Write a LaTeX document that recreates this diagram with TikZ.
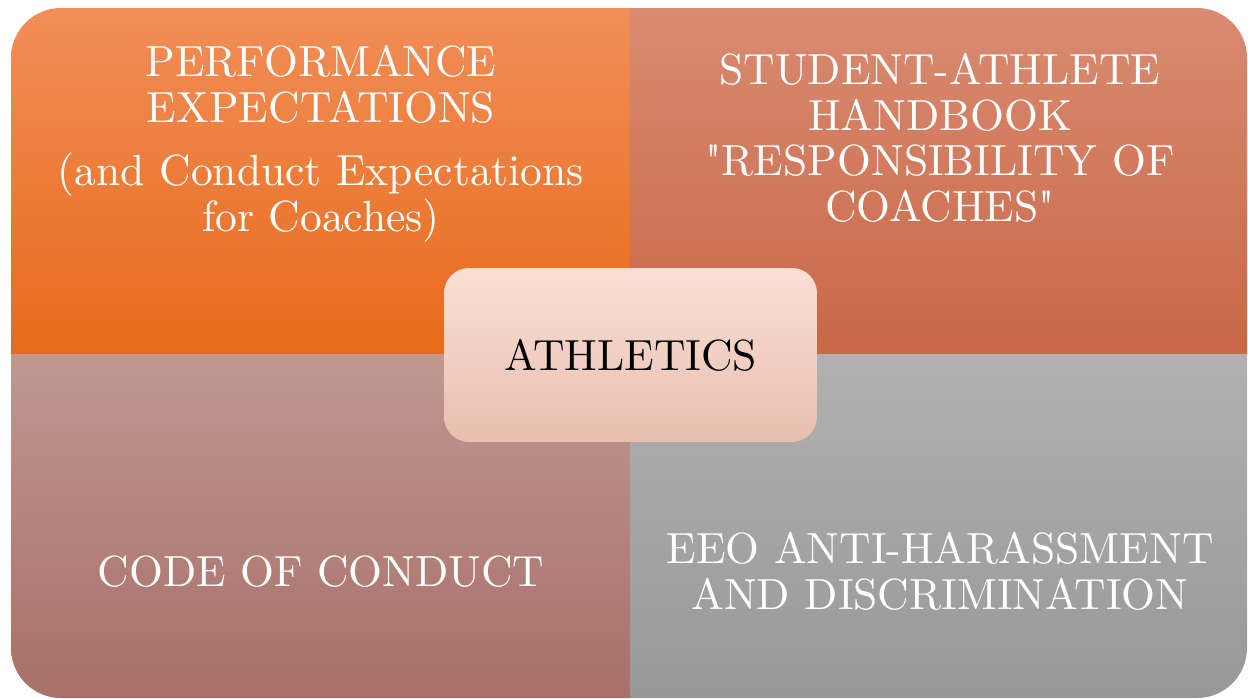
\documentclass[tikz,border=0pt]{standalone}
\usepackage{fontspec}
\setmainfont{lmroman10-regular.otf}[Ligatures=TeXOff]
\usepackage{tikz}

\definecolor{perfTop}{RGB}{241,142,88}
\definecolor{perfBot}{RGB}{232,106,26}
\definecolor{bookTop}{RGB}{217,139,114}
\definecolor{bookBot}{RGB}{201,103,70}
\definecolor{codeTop}{RGB}{192,151,146}
\definecolor{codeBot}{RGB}{168,112,104}
\definecolor{eeoTop}{RGB}{177,177,177}
\definecolor{eeoBot}{RGB}{152,152,152}
\definecolor{hubTop}{RGB}{251,223,213}
\definecolor{hubBot}{RGB}{231,191,176}

\begin{document}
\begin{tikzpicture}[x=0.02cm,y=-0.02cm,
    label/.style={inner sep=0pt,anchor=north,align=center,text=white,
                  font=\fontsize{24.8}{26}\selectfont}]
            \useasboundingbox (0,0) rectangle (1248,698);

            %%%%%%%%%%%%%%%%%%%%%%%%%%%%%%%%%%%
            % four quarters, outer corners rounded
            \begin{scope}
                \clip[rounded corners=1cm] (11,8) rectangle (1247,698);
                \shade[top color=perfTop,bottom color=perfBot] (11,8) rectangle (630,354);
                \shade[top color=bookTop,bottom color=bookBot] (630,8) rectangle (1247,354);
                \shade[top color=codeTop,bottom color=codeBot] (11,354) rectangle (630,698);
                \shade[top color=eeoTop,bottom color=eeoBot] (630,354) rectangle (1247,698);
            \end{scope}
            %%%%%%%%%%%%%%%%%%%%%%%%%%%%%%%%%%%

            % texts of the quarters
            \node[label] (perf) at (321,45)
                {PERFORMANCE\\EXPECTATIONS\\[10pt](and Conduct Expectations\\for Coaches)};
            \node[label] (book) at (940,53)
                {STUDENT-ATHLETE\\HANDBOOK\\"RESPONSIBILITY OF\\COACHES"};
            \node[label] (code) at (321,555) {CODE OF CONDUCT};
            \node[label] (eeo) at (940,532) {EEO ANTI-HARASSMENT\\AND DISCRIMINATION};

            % centre
            \node[rounded corners=0.5cm,top color=hubTop,bottom color=hubBot,
                  minimum width=7.46cm,minimum height=3.48cm,
                  font=\fontsize{24.8}{26}\selectfont] (hub) at (630.5,355) {ATHLETICS};

\end{tikzpicture}
\end{document}
